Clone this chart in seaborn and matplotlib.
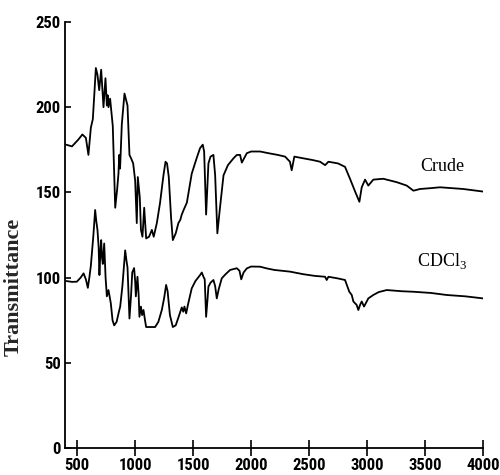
import matplotlib
matplotlib.use("Agg")
import matplotlib.pyplot as plt
import seaborn as sns
import pandas as pd

# ---- data ----
wn_crude = [405, 455, 510, 545, 575, 597, 618, 635, 650, 661, 675, 690, 707, 727, 744, 756, 763, 770,
            784, 807, 828, 845, 856, 863, 870, 885, 908, 934, 951, 965, 983, 1000, 1014, 1023, 1040,
            1050, 1063, 1078, 1095, 1120, 1144, 1160, 1187, 1215, 1244, 1262, 1275, 1290, 1310, 1325,
            1350, 1373, 1390, 1402, 1420, 1446, 1488, 1530, 1560, 1583, 1595, 1612, 1632, 1650, 1675,
            1690, 1709, 1730, 1762, 1800, 1848, 1877, 1905, 1920, 1963, 2000, 2078, 2150, 2230, 2293,
            2335, 2350, 2373, 2450, 2530, 2595, 2638, 2667, 2750, 2810, 2853, 2900, 2934, 2954, 2983,
            3011, 3054, 3140, 3256, 3342, 3400, 3457, 3550, 3629, 3730, 3830, 4000]
t_crude = [178, 177, 181, 184, 182, 172, 188, 193, 210, 223, 219, 210, 222, 200, 217, 201, 207, 200,
           205, 189, 141, 152, 161, 172, 164, 190, 208, 201, 172, 170, 167, 157, 132, 159, 147,
           128, 124, 141, 123, 124, 128, 124, 132, 144, 160, 168, 167, 159, 135, 122,
           126, 132, 134, 137, 140, 144, 161, 170, 176, 178, 174, 137, 167, 171, 172,
           160, 126, 140, 160, 166, 170, 172, 172, 167.5, 173, 174, 174, 173, 172, 171,
           168, 163, 171, 170, 169, 168, 166, 168, 167, 165, 158, 150, 144.5, 153, 157.5,
           154, 157.5, 158, 156, 154, 151, 152, 152.5, 153, 152.5, 152, 150.5]

wn_cdcl3 = [405, 455, 497, 530, 555, 575, 592, 605, 618, 640, 655, 665, 675, 685, 692, 700, 707, 714,
            721, 733, 745, 756, 770, 790, 805, 819, 840, 860, 871, 890, 914, 925, 934, 951, 965, 975,
            991, 1000, 1006, 1020, 1030, 1037, 1050, 1060, 1072, 1085, 1095, 1130, 1172, 1200, 1230,
            1250, 1267, 1280, 1287, 1300, 1325, 1350, 1375, 1402, 1415, 1425, 1440, 1455, 1488, 1520,
            1560, 1575, 1589, 1600, 1612, 1625, 1632, 1650, 1675, 1690, 1704, 1720, 1747, 1780, 1819,
            1877, 1900, 1915, 1935, 1963, 2000, 2078, 2135, 2200, 2336, 2450, 2550, 2638, 2652, 2667,
            2750, 2810, 2847, 2868, 2882, 2910, 2925, 2940, 2954, 2974, 3011, 3054, 3100, 3170, 3300,
            3400, 3550, 3687, 3850, 4000]
t_cdcl3 = [98, 97.5, 97.6, 100, 102.5, 99, 94, 100, 107, 125, 139.7, 133, 128, 118, 101.5, 115, 122, 112,
           108, 120, 100, 89, 92.7, 85, 75, 72, 74, 80, 83, 95, 116, 110, 106, 76, 90, 103,
           105.6, 98, 89, 100.5, 90, 77, 83, 78, 81, 75, 71, 71, 71, 74, 81,
           88, 95.7, 92, 87, 78, 71, 72, 77, 82.5, 80, 83, 79, 84, 93.7, 98,
           101.5, 103, 100.5, 99, 77, 88, 94.7, 97, 98.6, 95, 87.8, 93, 99.6, 102, 104.5,
           105.5, 104, 99, 103, 105.4, 106.5, 106.4, 105.4, 104.5, 103.5, 102, 101, 100.5, 98.6, 100.5,
           99.5, 98.6, 91.7, 89.8, 86, 84, 81, 84, 86, 83, 87.8, 89.8, 91.5, 92.7, 92,
           91.7, 91, 89.8, 89, 87.8]

series_labels = ["Crude", r"CDCl$_3$"]
label_pos = [(3650, 165), (3645, 110)]
x_ticks = [500, 1000, 1500, 2000, 2500, 3000, 3500, 4000]
y_ticks = [0, 50, 100, 150, 200, 250]
y_label = "Transmittance"

df = pd.concat([
    pd.DataFrame({"wn": wn_crude, "T": t_crude, "series": "Crude"}),
    pd.DataFrame({"wn": wn_cdcl3, "T": t_cdcl3, "series": "CDCl3"}),
], ignore_index=True)

sns.set_style("ticks")
plt.rcParams["font.family"] = ["Roboto Condensed", "Liberation Sans Narrow", "DejaVu Sans"]
plt.rcParams["font.stretch"] = "condensed"
plt.rcParams["mathtext.fontset"] = "custom"
plt.rcParams["mathtext.rm"] = "Liberation Serif"

fig = plt.figure(figsize=(5, 4.75), dpi=100)
ax = fig.add_axes([0.13, 0.0568, 0.836, 0.8969])

for name in ["Crude", "CDCl3"]:
    sub = df[df["series"] == name]
    sns.lineplot(data=sub, x="wn", y="T", ax=ax, color="black", linewidth=1.3,
                 estimator=None, sort=False, legend=False)

ax.set_xlim(395, 4000)
ax.set_ylim(0, 250)
ax.set_xticks(x_ticks)
ax.set_yticks(y_ticks)
ax.set_xlabel("")
ax.set_ylabel(y_label, family=["Liberation Serif"], fontstretch="normal", fontweight="bold", fontsize=16)
ax.yaxis.set_label_coords(-0.098, 0.378)

for s in ["top", "right"]:
    ax.spines[s].set_visible(False)
for s in ["left", "bottom"]:
    ax.spines[s].set_linewidth(1.3)
    ax.spines[s].set_color("black")

ax.tick_params(axis="x", direction="inout", length=11, width=1.2, pad=2, labelsize=12, colors="black")
ax.tick_params(axis="y", direction="in", length=4, width=1.2, pad=3, labelsize=12, colors="black")
for lab in ax.get_xticklabels() + ax.get_yticklabels():
    lab.set_fontweight("bold")

for txt, (xx, yy) in zip(series_labels, label_pos):
    ax.text(xx, yy, txt, family=["Liberation Serif"], fontstretch="normal", fontsize=13,
            ha="center", va="center", color="black")

fig.savefig("out.png", dpi=100)
